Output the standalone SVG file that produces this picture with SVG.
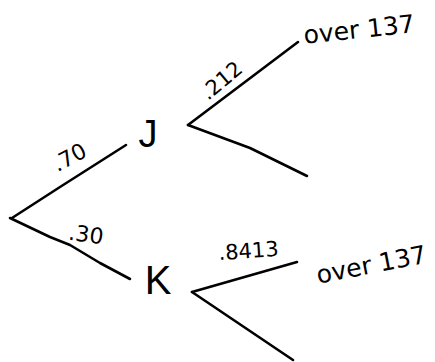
<svg xmlns="http://www.w3.org/2000/svg" width="435" height="362" viewBox="0 0 435 362">
<style>
.c{fill:none;stroke:#000;stroke-width:2.6;stroke-linecap:round;stroke-linejoin:round}
.t{font-family:"DejaVu Sans","Liberation Sans",sans-serif;fill:#000}
.n{font-family:"Liberation Sans","DejaVu Sans",sans-serif;fill:#000}
</style>
<rect width="435" height="362" fill="#fff"/>
<g id="connectors">
<polyline class="c" points="126,145 60,187 12,218"/>
<polyline class="c" points="10,218 50,237 70,245 100,263 130,279"/>
<polyline class="c" points="298,42 188,125"/>
<polyline class="c" points="188,125 250,148 307,176"/>
<polyline class="c" points="297,262 192,292"/>
<polyline class="c" points="192,292 293,360"/>
</g>
<g id="edge-labels">
<text class="t" font-size="22" transform="translate(73,164) rotate(-28)" text-anchor="middle">.70</text>
<text class="t" font-size="22" transform="translate(85,242) rotate(8)" text-anchor="middle">.30</text>
<text class="t" font-size="21" transform="translate(226,86) rotate(-40)" text-anchor="middle">.212</text>
<text class="t" font-size="21" transform="translate(249,258) rotate(-4)" text-anchor="middle">.8413</text>
</g>
<g id="root"></g>
<g id="node-J"><text class="n" x="148" y="147" font-size="38" text-anchor="middle">J</text></g>
<g id="node-K"><text class="n" x="158" y="294" font-size="40" text-anchor="middle">K</text></g>
<g id="leaf-J-over"><text class="t" font-size="25" transform="translate(360,38) rotate(-6)" text-anchor="middle">over 137</text></g>
<g id="leaf-K-over"><text class="t" font-size="25" transform="translate(373,273) rotate(-11)" text-anchor="middle">over 137</text></g>
</svg>
